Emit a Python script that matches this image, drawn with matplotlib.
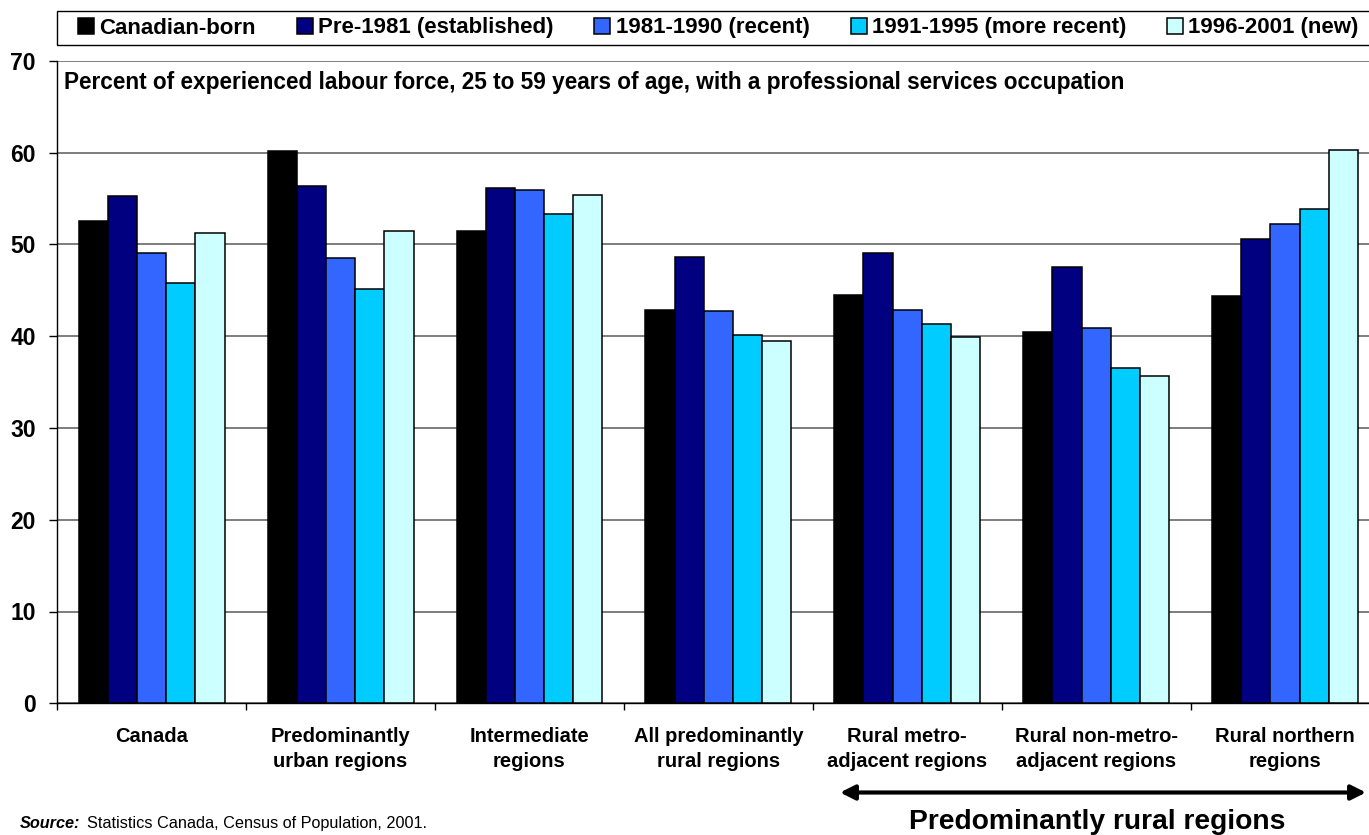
import matplotlib
matplotlib.use('Agg')
import matplotlib.pyplot as plt
import numpy as np
from matplotlib.patches import Rectangle

plt.rcParams['font.family'] = ['Liberation Sans', 'DejaVu Sans']

regions = ['Canada', 'Predominantly\nurban regions', 'Intermediate\nregions',
           'All predominantly\nrural regions', 'Rural metro-\nadjacent regions',
           'Rural non-metro-\nadjacent regions', 'Rural northern\nregions']
groups = ['Canadian-born', 'Pre-1981 (established)', '1981-1990 (recent)',
          '1991-1995 (more recent)', '1996-2001 (new)']
colors = ['#000000', '#000080', '#3366FF', '#00CCFF', '#CCFFFF']

canadian_born = [52.5, 60.2, 51.4, 42.8, 44.5, 40.5, 44.4]
pre_1981 = [55.3, 56.3, 56.1, 48.6, 49.0, 47.5, 50.6]
recent_81_90 = [49.0, 48.5, 55.9, 42.7, 42.8, 40.9, 52.2]
recent_91_95 = [45.8, 45.1, 53.3, 40.1, 41.3, 36.5, 53.8]
new_96_01 = [51.2, 51.4, 55.4, 39.5, 39.9, 35.6, 60.3]
series = [canadian_born, pre_1981, recent_81_90, recent_91_95, new_96_01]

W, H = 1369, 835
fig = plt.figure(figsize=(W / 100, H / 100), dpi=100)
ax = fig.add_axes([57.3 / W, 1 - 703.3 / H, 1322.1 / W, 642.6 / H])

x = np.arange(len(regions))
w = 0.1544
for i, vals in enumerate(series):
    ax.bar(x + (i - 2) * w, vals, w, color=colors[i], edgecolor='black',
           linewidth=1.1, label=groups[i], zorder=3)

ax.set_xlim(-0.5, len(regions) - 0.5)
ax.set_ylim(0, 70)
ax.set_yticks(range(0, 71, 10))
ax.yaxis.grid(True, color='#5a5a5a', linewidth=1.1, zorder=0)
ax.set_axisbelow(True)
for s in ['top', 'right']:
    ax.spines[s].set_visible(False)
ax.spines['left'].set_linewidth(1)
ax.spines['bottom'].set_linewidth(1)

ax.tick_params(axis='y', direction='out', length=5.8, width=1, pad=9.6,
               labelsize=16.5)
for t in ax.get_yticklabels():
    t.set_fontweight('bold')

ax.set_xticks(x)
ax.set_xticklabels(regions, fontsize=14.5, fontweight='bold', linespacing=1.38)
ax.tick_params(axis='x', which='major', length=0, pad=17)
ax.set_xticks(np.arange(len(regions) + 1) - 0.5, minor=True)
ax.tick_params(axis='x', which='minor', direction='out', length=5, width=1)

# legend with its own frame along the top
fig.patches.append(Rectangle((57 / W, 1 - 45 / H), 1.0, 34 / H, fill=False,
                             edgecolor='black', linewidth=1,
                             transform=fig.transFigure, figure=fig))
fig.legend(loc='center left', bbox_to_anchor=(78 / W, 1 - 28 / H),
           bbox_transform=fig.transFigure, ncol=5, frameon=False,
           handlelength=0.72, handleheight=0.7, handletextpad=0.23,
           columnspacing=1.85, borderpad=0, borderaxespad=0,
           prop={'weight': 'bold', 'size': 16})

fig.text(64 / W, 1 - 89 / H, 'Percent of experienced labour force, 25 to 59 years of age, '
         'with a professional services occupation', fontsize=16.3,
         fontweight='bold', va='baseline', ha='left')

fig.text(20 / W, 1 - 828 / H, 'Source:', fontsize=11.7, fontweight='bold',
         fontstyle='italic', va='baseline')
fig.text(87 / W, 1 - 828 / H, 'Statistics Canada, Census of Population, 2001.',
         fontsize=11.7, va='baseline')

ax.annotate('', xy=(1366 / W, 1 - 792.5 / H), xytext=(840 / W, 1 - 792.5 / H),
            xycoords='figure fraction', textcoords='figure fraction',
            arrowprops=dict(arrowstyle='<|-|>', color='black', lw=3,
                            mutation_scale=22, shrinkA=0, shrinkB=0))
fig.text(1097 / W, 1 - 829 / H, 'Predominantly rural regions', fontsize=20.3,
         fontweight='bold', ha='center', va='baseline')

fig.savefig('out.png', dpi=100)
